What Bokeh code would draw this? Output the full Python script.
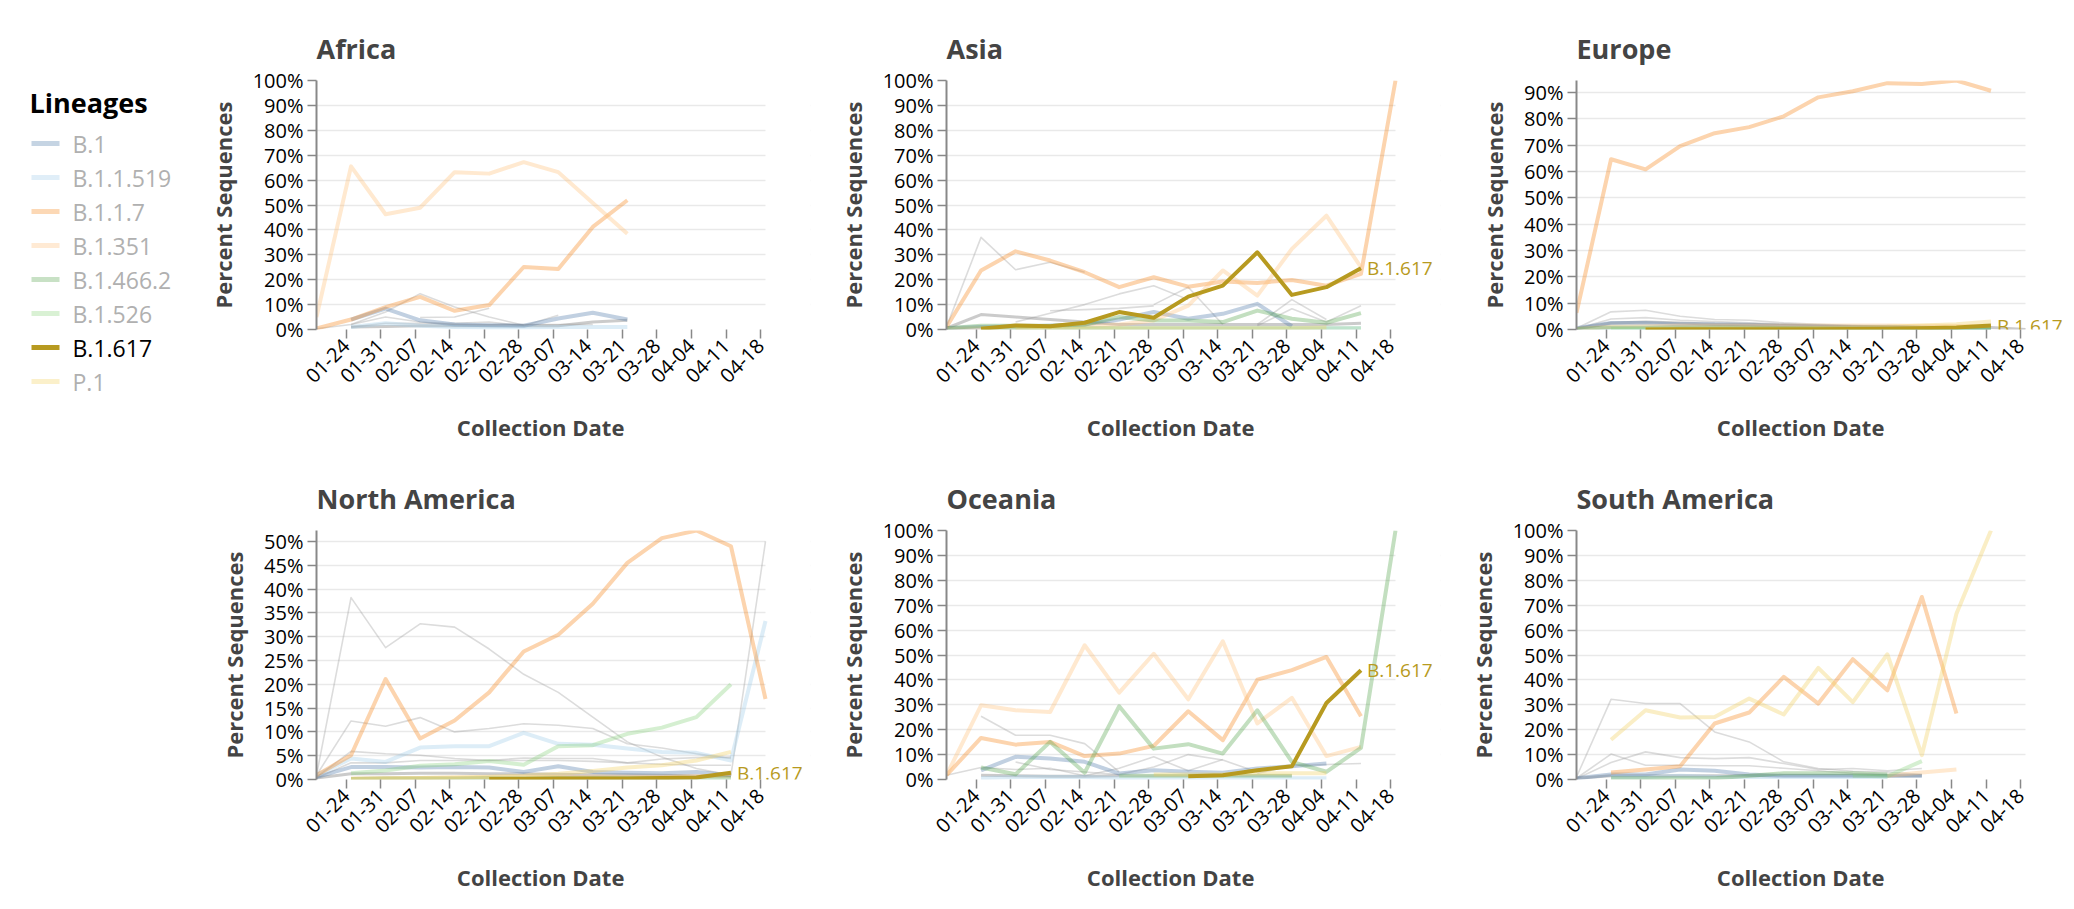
import numpy as np
import pandas as pd
from bokeh.plotting import figure
from bokeh.layouts import row, column
from bokeh.models import Range1d, FixedTicker, PrintfTickFormatter, Label, BoxAnnotation
from bokeh.core.properties import value
from bokeh.embed import file_html
from bokeh.resources import INLINE

# ---------------- data ----------------
week_dates = ["2021-01-18", "2021-01-25", "2021-02-01", "2021-02-08", "2021-02-15",
              "2021-02-22", "2021-03-01", "2021-03-08", "2021-03-15", "2021-03-22",
              "2021-03-29", "2021-04-05", "2021-04-12", "2021-04-19"]
tick_dates = ["2021-01-24", "2021-01-31", "2021-02-07", "2021-02-14", "2021-02-21",
              "2021-02-28", "2021-03-07", "2021-03-14", "2021-03-21", "2021-03-28",
              "2021-04-04", "2021-04-11", "2021-04-18"]
tick_labels = ["01-24", "01-31", "02-07", "02-14", "02-21", "02-28", "03-07",
               "03-14", "03-21", "03-28", "04-04", "04-11", "04-18"]

lineages = ["B.1", "B.1.1.519", "B.1.1.7", "B.1.351", "B.1.466.2", "B.1.526", "B.1.617", "P.1"]
lineage_colors = ["#4c78a8", "#9ecae9", "#f58518", "#ffbf79", "#54a24b", "#88d27a", "#b79a20", "#f2cf5b"]
selected = "B.1.617"

regions = ["Africa", "Asia", "Europe", "North America", "Oceania", "South America"]
y_axis_max = [100, 100, 94.5, 52.3, 100, 100]
y_ticks_10 = [0, 10, 20, 30, 40, 50, 60, 70, 80, 90, 100]
y_ticks_5 = [0, 5, 10, 15, 20, 25, 30, 35, 40, 45, 50]

N = None
# percent of sequences per collection week
africa = {
    "B.1":       [N, 4, 8.4, 3.7, 2, 1.7, 1.5, 4.4, 6.7, 4, N, N, N, N],
    "B.1.1.519": [N, 1, 2.5, 1.5, 1, 0.8, 0.8, 1, 1, 1, N, N, N, N],
    "B.1.1.7":   [0.4, 4, 9, 13.1, 7.5, 9.8, 25.1, 24.3, 41.2, 51.9, N, N, N, N],
    "B.1.351":   [5, 65.5, 46.3, 48.9, 63.2, 62.6, 67.2, 63.2, 50.8, 38.5, N, N, N, N],
}
africa_other = [
    [N, 2, 7, 14.4, 9, 5, 1.7, N, N, N, N, N, N, N],
    [N, N, N, 4.8, 5, 8.5, N, N, N, N, N, N, N, N],
    [N, 1, 2.5, 2.5, 2.5, 3, 1.5, 5.7, N, N, N, N, N, N],
    [0.3, 2, 5, 3, 2, 2, 2, 2, 2, N, N, N, N, N],
]
africa_other_main = [N, 1, 1.2, 1.5, 1.5, 1.5, 1.5, 1.5, 3, 3.7, N, N, N, N]

asia = {
    "B.1":       [0.5, 1, 1.2, 1.5, 2, 4, 7, 4.3, 6.3, 10.3, 1.3, N, N, N],
    "B.1.1.519": [0.2, 0.5, 0.5, 0.5, 0.5, 0.5, 0.5, 0.5, 0.5, 0.5, 0.5, 0.5, 0.5, N],
    "B.1.1.7":   [1, 23.7, 31.4, 27.7, 23, 17, 21, 17.2, 19.3, 18.7, 19.9, 17.6, 22.3, 100],
    "B.1.351":   [0.3, 0.5, 0.8, 1, 1.5, 2, 3.6, 9.6, 23.7, 13.6, 32.4, 45.7, 25, N],
    "B.1.466.2": [0.5, 1.5, 1.5, 1.5, 2, 5, 3.6, 3.6, 3, 7.6, 4.3, 2.7, 6.6, N],
    "B.1.526":   [N, 0.3, 0.3, 0.5, 0.5, 0.5, 0.5, 0.5, 0.5, 0.5, 0.5, 0.5, 0.5, N],
    "B.1.617":   [N, 0.3, 1.6, 1.3, 2.7, 7, 4.7, 13.2, 17.6, 31, 13.9, 17, 24.6, N],
    "P.1":       [N, N, 0.2, 0.2, 0.3, 0.5, 0.5, 0.5, 0.5, 0.5, 0.5, 0.8, N, N],
}
asia_other = [
    [1, 37, 24, 27, 23, N, N, N, N, N, N, N, N, N],
    [N, N, 3, 6.5, 10, 14.3, 17.6, 12, N, N, N, N, N, N],
    [N, N, N, 7.5, 8, 8.5, 9.5, N, N, N, N, N, N, N],
    [N, N, N, N, N, N, 10, 17, 2, N, N, N, N, N],
    [N, N, N, N, N, N, N, N, N, 2, 12, 4, N, N],
    [N, N, N, N, N, N, N, N, N, 1.5, 8.3, 3, 9.5, N],
]
asia_other_main = [0.5, 6, 5, 4, 3, 2, 2, 2, 2, 2, 2, 2, 2.5, N]

europe = {
    "B.1":       [0.5, 2.5, 2.5, 2, 2, 1.8, 1.5, 1.2, 1, 1, 0.8, 0.6, 0.5, N],
    "B.1.1.519": [0.2, 0.5, 0.5, 0.5, 0.5, 0.4, 0.4, 0.3, 0.3, 0.3, 0.2, 0.2, 0.2, N],
    "B.1.1.7":   [6.3, 64.6, 60.8, 69.6, 74.5, 76.8, 80.9, 88.1, 90.4, 93.5, 93.2, 94.5, 90.6, N],
    "B.1.351":   [0.2, 1, 1.2, 1.5, 1.5, 1.5, 1.5, 1.5, 1.5, 1.5, 1.4, 1.3, 1.2, N],
    "B.1.466.2": [0.2, 0.8, 0.8, 0.8, 0.8, 0.7, 0.6, 0.5, 0.4, 0.3, 0.3, 0.3, 0.3, N],
    "B.1.526":   [N, 0.2, 0.2, 0.2, 0.2, 0.2, 0.2, 0.2, 0.2, 0.2, 0.2, 0.2, 0.2, N],
    "B.1.617":   [N, N, 0, 0.05, 0.1, 0.1, 0.1, 0.1, 0.2, 0.3, 0.5, 0.8, 1.5, N],
    "P.1":       [N, N, 0.1, 0.2, 0.3, 0.4, 0.5, 0.6, 0.8, 1, 1.5, 2, 3, N],
}
europe_other = [
    [0.5, 6.7, 7.3, 5, 3.8, 3.5, 2.5, 2, 1.5, 1.2, 1, 0.8, 0.6, N],
    [0.3, 4, 4.5, 3.5, 3, 2.5, 2, 1.5, 1.2, 1, 0.8, 0.6, 0.5, N],
]
europe_other_main = [0.3, 2.5, 2.8, 2.5, 2, 1.8, 1.5, 1.2, 1, 1, 0.8, 0.8, 0.8, 0]

north_america = {
    "B.1":       [0.5, 2.6, 2.6, 2.5, 2.6, 2.5, 1.6, 2.8, 1.6, 1.4, 1.3, 1.6, 0.9, N],
    "B.1.1.519": [0.9, 4.4, 3.7, 6.7, 7, 7, 9.8, 7.5, 7.3, 6.5, 5.8, 5.6, 4, 33.3],
    "B.1.1.7":   [0.9, 5.1, 21.1, 8.6, 12.4, 18.3, 26.9, 30.4, 36.9, 45.5, 50.7, 52.3, 49, 16.9],
    "B.1.351":   [N, 0.2, 0.3, 0.3, 0.4, 0.4, 0.5, 0.5, 0.6, 0.6, 0.6, 0.7, 0.8, N],
    "B.1.466.2": [N, 0.1, 0.2, 0.2, 0.2, 0.3, 0.3, 0.3, 0.3, 0.3, 0.3, 0.3, 0.3, N],
    "B.1.526":   [N, 1.3, 1.9, 2.9, 3.2, 3.9, 3.1, 7, 7.2, 9.6, 10.9, 13.1, 20, N],
    "B.1.617":   [N, N, N, N, N, 0.1, 0.1, 0.2, 0.2, 0.2, 0.3, 0.4, 1.4, N],
    "P.1":       [N, 0.1, 0.2, 0.3, 0.4, 0.6, 0.8, 1.2, 1.8, 2.5, 3, 4, 5.8, N],
}
north_america_other = [
    [0.9, 38.2, 27.7, 32.7, 32, 27.4, 22.1, 18.3, 13.1, 7.9, 4.7, 2.3, 0.9, 50],
    [0.9, 12.3, 11.2, 13, 10, 10.7, 11.7, 11.4, 10.7, 7.5, 6.6, 5.4, 4.4, N],
    [0.5, 5.9, 5.4, 5.1, 4.4, 4, 4.5, 4.4, 4.4, 3.5, 3.2, 3, 3, N],
    [0.3, 3.5, 3.5, 4, 4, 4, 4, 4, 3.8, 3.5, 4.3, 4.6, 4.7, N],
]
north_america_other_main = [0.3, 1.2, 1.2, 1.3, 1.3, 1.2, 1.2, 1.1, 1, 1, 0.9, 0.8, 0.8, N]

oceania = {
    "B.1":       [N, 3.7, 9.1, 8.4, 7.1, 2.4, 3.7, 3.1, 2.7, 4.4, 5.3, 6.4, N, N],
    "B.1.1.519": [N, 0.5, 1, 1, 1, 0.5, 0.5, 0.5, 0.5, 0.5, 0.5, 0.5, N, N],
    "B.1.1.7":   [1.7, 16.7, 14, 15.1, 9.4, 10.4, 13.5, 27.4, 15.8, 40.1, 43.9, 49.2, 25.4, N],
    "B.1.351":   [1.7, 29.8, 27.8, 27.1, 53.9, 34.9, 50.5, 32.2, 55.5, 22.5, 32.8, 9.4, 13.1, N],
    "B.1.466.2": [N, 4.8, 2.1, 15.1, 2.7, 29.4, 12.4, 14.2, 10.4, 27.8, 7.1, 3.1, 12.7, 100],
    "B.1.526":   [N, N, N, N, N, 1.5, 1.5, 1.5, 1.5, 1.5, 1.5, N, N, N],
    "B.1.617":   [N, N, N, N, N, N, N, 1.3, 1.7, 3.7, 5.3, 30.7, 43.9, N],
    "P.1":       [N, N, N, N, N, N, 2, 2, 2, 2.5, 2.5, 2.5, N, N],
}
oceania_other = [
    [N, 25.4, 17.8, 17.8, 14.4, 3.1, N, N, N, N, N, N, N, N],
    [1.7, 4.8, 4, 4.5, 1.5, 4.5, 9.1, 3.5, 8, N, N, N, N, N],
    [N, N, 7, 4, 3, 2, 5, 10, 7.8, 3, N, N, N, N],
    [N, N, N, N, N, N, N, N, N, 2.5, 5.5, 6, 6.4, N],
]
oceania_other_main = [N, 1.7, 1.5, 1.3, 1.3, 1.5, 1.5, 1.5, 1.5, 1.5, 1.5, N, N, N]

south_america = {
    "B.1":       [0.5, 2, 2, 4, 3.5, 2, 1.5, 1.5, 1.5, 1.5, 1.5, N, N, N],
    "B.1.1.519": [N, 1, 1, 1.5, 1, 1, 1, 1, 1, 1, N, N, N, N],
    "B.1.1.7":   [N, 2.8, 4, 5.3, 22.5, 26.9, 41.2, 30.5, 48.3, 35.8, 73.3, 26.5, N, N],
    "B.1.351":   [N, N, N, N, N, N, N, N, N, 1.5, 2.8, 4, N, N],
    "B.1.466.2": [N, 0.5, 0.5, 0.5, 0.5, 1.5, 2.5, 2.5, 2.5, 2, N, N, N, N],
    "B.1.526":   [N, N, N, N, N, N, N, N, 1.5, 1.3, 7.4, N, N, N],
    "P.1":       [N, 16, 27.8, 24.9, 25.1, 32.5, 26.1, 44.8, 31.1, 50.3, 9.8, 66.6, 100, N],
}
south_america_other = [
    [1, 32.2, 30.5, 30.5, 19.1, 15.1, 7.1, 4.4, 3.3, 3, 2, N, N, N],
    [0.5, 10.2, 5.7, 5.7, 5.5, 5.5, 4.5, 3.5, 2.5, 2, N, N, N, N],
    [0.3, 6.8, 11.1, 8.8, 8.4, 8.8, 6.4, 4, 4.4, 3.5, 4.4, N, N, N],
]
south_america_other_main = [0.5, 1.5, 1.5, 1.5, 1.5, 1.5, 1.5, 1.5, 1.5, 1.5, 1.5, N, N, N]

region_series = [africa, asia, europe, north_america, oceania, south_america]
region_other = [africa_other, asia_other, europe_other, north_america_other, oceania_other, south_america_other]
region_other_main = [africa_other_main, asia_other_main, europe_other_main,
                     north_america_other_main, oceania_other_main, south_america_other_main]

# ---------------- styling ----------------
FONT = "Open Sans"
FRAME_W, FRAME_H = 449, 249
LABEL_ROOM = 45          # extra frame width to the right, so end labels are not clipped
BORDER_L, BORDER_R = 130, 51
BORDER_T1, BORDER_T2 = 80, 72
BORDER_B1, BORDER_B2 = 129, 129
NBSP = "\u00a0"


def to_ms(d):
    return pd.Timestamp(d).value // 10**6


xs = np.array([to_ms(d) for d in week_dates], dtype=float)
tick_ms = [to_ms(d) for d in tick_dates]
x_end = xs[-1] + (xs[-1] - xs[0]) * LABEL_ROOM / FRAME_W


def make_panel(idx, right_border, top_border, bottom_border):
    name = regions[idx]
    ymax = y_axis_max[idx]
    yticks = y_ticks_5 if ymax < 60 else y_ticks_10
    p = figure(frame_width=FRAME_W + LABEL_ROOM, frame_height=FRAME_H,
               min_border_left=BORDER_L, min_border_right=right_border,
               min_border_top=top_border, min_border_bottom=bottom_border,
               x_range=Range1d(xs[0], x_end), y_range=Range1d(0, ymax),
               output_backend="svg", toolbar_location=None, title=name)
    p.outline_line_color = None
    p.background_fill_color = "white"
    p.border_fill_color = "white"
    p.title.text_font = FONT
    p.title.text_font_size = "27px"
    p.title.text_font_style = "bold"
    p.title.align = "left"
    p.title.standoff = 27

    p.xgrid.grid_line_color = None
    p.ygrid.grid_line_color = "#e9e9e9"
    p.ygrid.grid_line_width = 1.5
    # grid stops at the end of the time domain; the strip beyond holds only labels
    p.add_layout(BoxAnnotation(left=xs[-1], fill_color="white", fill_alpha=1.0,
                               line_color=None, level="underlay"))

    xa = p.xaxis[0]
    xa.ticker = FixedTicker(ticks=tick_ms)
    xa.major_label_overrides = {t: lab for t, lab in zip(tick_ms, tick_labels)}
    xa.major_label_orientation = np.pi / 4
    xa.axis_line_color = None
    xa.major_tick_line_color = "#888888"
    xa.major_tick_line_width = 1.5
    xa.major_tick_out = 9
    xa.major_tick_in = 0
    xa.minor_tick_line_color = None
    xa.major_label_text_font = FONT
    xa.major_label_text_font_size = "20px"
    xa.major_label_text_color = "black"
    xa.major_label_standoff = 4
    # trailing no-break spaces keep the title centred on the time domain
    xa.axis_label = "Collection Date" + NBSP * 8
    xa.axis_label_text_font = FONT
    xa.axis_label_text_font_size = "22px"
    xa.axis_label_text_font_style = "bold"
    xa.axis_label_standoff = 20

    ya = p.yaxis[0]
    ya.ticker = FixedTicker(ticks=yticks)
    ya.formatter = PrintfTickFormatter(format="%d%%")
    ya.axis_line_color = "#888888"
    ya.axis_line_width = 2
    ya.major_tick_line_color = "#888888"
    ya.major_tick_line_width = 1.5
    ya.major_tick_out = 9
    ya.major_tick_in = 0
    ya.minor_tick_line_color = None
    ya.major_label_text_font = FONT
    ya.major_label_text_font_size = "20px"
    ya.major_label_text_color = "black"
    ya.major_label_standoff = 4
    ya.axis_label = "Percent Sequences"
    ya.axis_label_text_font = FONT
    ya.axis_label_text_font_size = "22px"
    ya.axis_label_text_font_style = "bold"
    ya.axis_label_standoff = 12

    # other lineages in grey
    for vals in region_other[idx]:
        ys = np.array(vals, dtype=float)
        p.line(xs, ys, line_color="#9a9a9a", line_alpha=0.35, line_width=1.6, line_join="round")
    ys = np.array(region_other_main[idx], dtype=float)
    p.line(xs, ys, line_color="#8c8c8c", line_alpha=0.45, line_width=3, line_join="round")

    series = region_series[idx]
    for lin, col in zip(lineages, lineage_colors):
        if lin not in series or lin == selected:
            continue
        ys = np.array(series[lin], dtype=float)
        p.line(xs, ys, line_color=col, line_alpha=0.35, line_width=4, line_join="round")
    if selected in series:
        ys = np.array(series[selected], dtype=float)
        p.line(xs, ys, line_color=lineage_colors[lineages.index(selected)],
               line_alpha=1.0, line_width=4, line_join="round")
        valid = np.where(~np.isnan(ys))[0]
        last = valid[-1]
        p.add_layout(Label(x=xs[last], y=ys[last], text=selected, x_offset=6,
                           text_baseline="middle", text_align="left",
                           text_color=lineage_colors[lineages.index(selected)],
                           text_font=FONT, text_font_size="19px"))
    return p


# ---------------- legend ----------------
LEG_W = 186
LEG_H = (BORDER_T1 + FRAME_H + BORDER_B1) + (BORDER_T2 + FRAME_H + BORDER_B2)
leg = figure(width=LEG_W, height=LEG_H, x_range=Range1d(0, LEG_W), y_range=Range1d(LEG_H, 0),
             min_border=0, x_axis_location=None, y_axis_location=None,
             output_backend="svg", toolbar_location=None)
leg.outline_line_color = None
leg.grid.grid_line_color = None
leg.text(x=[29], y=[102], text=["Lineages"], text_font=value(FONT), text_font_size="27px",
         text_font_style="bold", text_baseline="middle", text_color="black")
item_y = [143 + 34 * k for k in range(len(lineages))]
swatch_alpha = [1.0 if l == selected else 0.32 for l in lineages]
label_color = ["black" if l == selected else "#b0b0b0" for l in lineages]
leg.segment(x0=[31] * len(lineages), x1=[59] * len(lineages), y0=item_y, y1=item_y,
            line_color=lineage_colors, line_alpha=swatch_alpha, line_width=5)
leg.text(x=[72] * len(lineages), y=item_y, text=lineages, text_font=value(FONT),
         text_font_size="23px", text_baseline="middle", text_color=label_color)

# ---------------- layout ----------------
panels = []
for i in range(6):
    rb = 0 if i in (2, 5) else BORDER_R - LABEL_ROOM
    tb = BORDER_T1 if i < 3 else BORDER_T2
    bb = BORDER_B1 if i < 3 else BORDER_B2
    panels.append(make_panel(i, rb, tb, bb))

layout = row(leg, column(row(*panels[:3]), row(*panels[3:])))

with open("out.html", "w") as f:
    f.write(file_html(layout, INLINE))
